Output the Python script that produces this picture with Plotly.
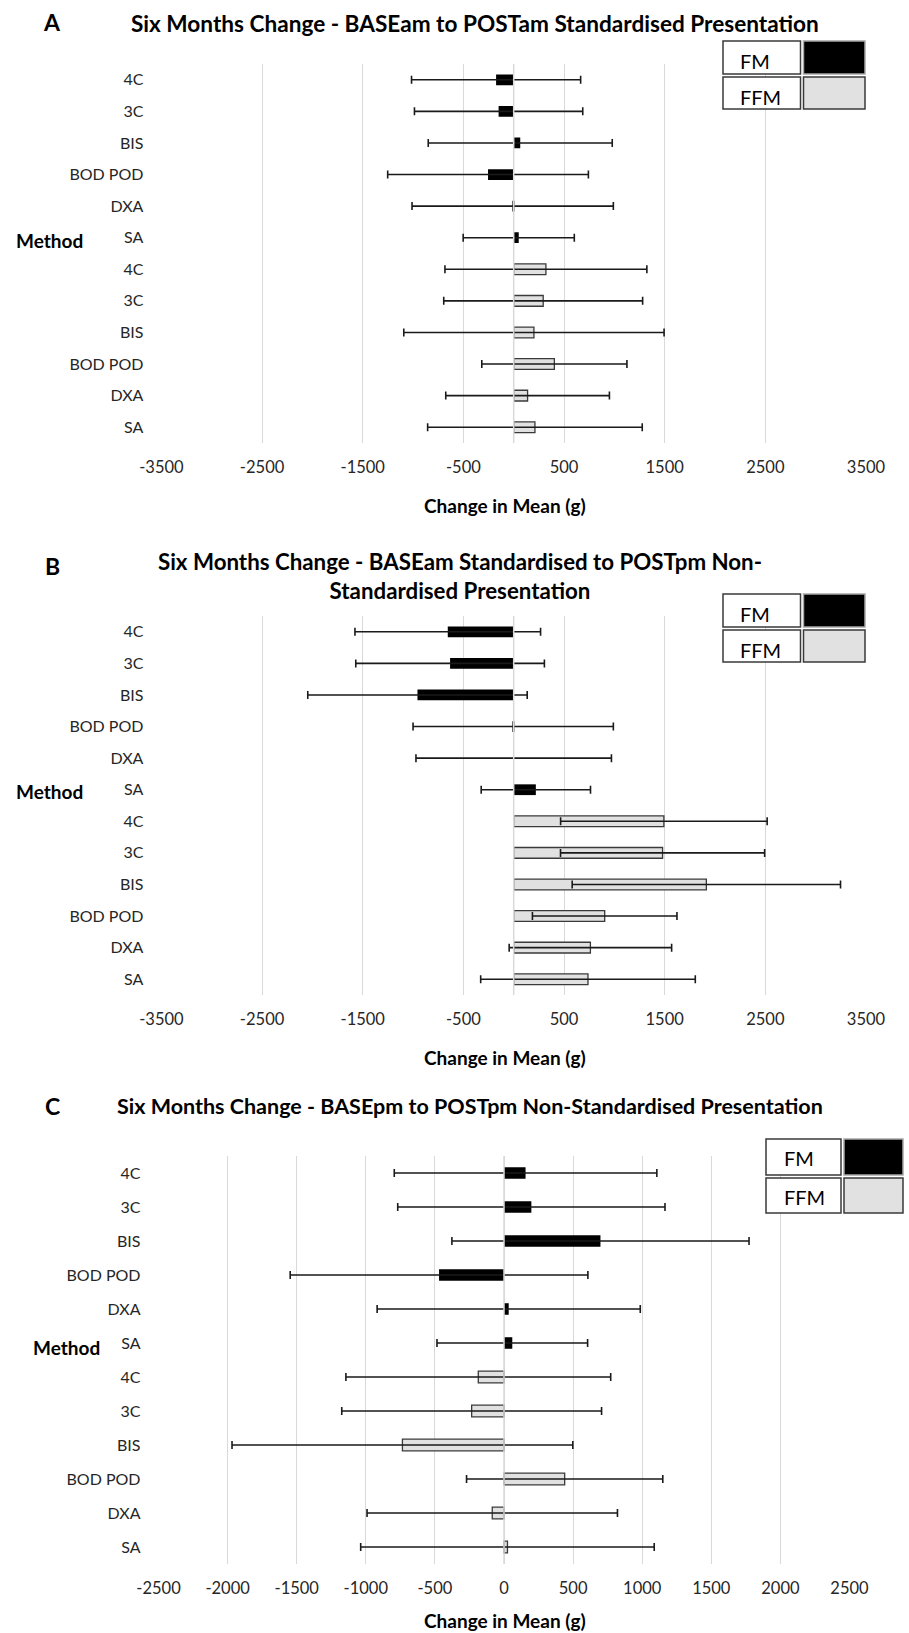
import plotly.graph_objects as go

# ---------------- data ----------------
methods = ["4C", "3C", "BIS", "BOD POD", "DXA", "SA"]
groups = ["FM", "FFM"]

# Panel A: BASEam to POSTam (standardised)
A_fm_mean = [-175, -150, 65, -255, -10, 50]
A_fm_err = [840, 836, 914, 997, 1000, 552]
A_ffm_mean = [320, 293, 201, 404, 138, 211]
A_ffm_err = [1003, 988, 1293, 721, 813, 1066]

# Panel B: BASEam standardised to POSTpm non-standardised
B_fm_mean = [-655, -632, -956, -5, 0, 220]
B_fm_err = [922, 937, 1090, 995, 971, 543]
B_ffm_mean = [1492, 1479, 1914, 904, 762, 738]
B_ffm_err = [1026, 1014, 1333, 718, 807, 1066]

# Panel C: BASEpm to POSTpm (non-standardised)
C_fm_mean = [156, 198, 698, -470, 34, 60]
C_fm_err = [950, 967, 1075, 1077, 952, 545]
C_ffm_mean = [-186, -234, -735, 439, -85, 25]
C_ffm_err = [958, 940, 1233, 710, 906, 1062]

titles = [
    "Six Months Change - BASEam to POSTam Standardised Presentation",
    "Six Months Change - BASEam Standardised to POSTpm Non-<br>Standardised Presentation",
    "Six Months Change - BASEpm to POSTpm Non-Standardised Presentation",
]
letters = ["A", "B", "C"]
x_ticks_AB = [-3500, -2500, -1500, -500, 500, 1500, 2500, 3500]
x_ticks_C = [-2500, -2000, -1500, -1000, -500, 0, 500, 1000, 1500, 2000, 2500]
x_title = "Change in Mean (g)"
y_title = "Method"

# ---------------- layout helpers ----------------
W, H = 909, 1633
FONT = "Lato, 'Open Sans', 'Liberation Sans', sans-serif"
TXT = "#262626"
FM_COLOR = "#000000"
FFM_COLOR = "#e1e1e1"
GRID = "#d9d9d9"


def px(x):
    return x / W


def py(y):
    return 1 - y / H


cat_ids = [f"{g}|{m}" for g in groups for m in methods]
cat_text = methods * 2

panels = [
    dict(fm=(A_fm_mean, A_fm_err), ffm=(A_ffm_mean, A_ffm_err), ticks=x_ticks_AB,
         xdom=(161.4, 866.0), ydom=(64.0, 443.0),
         title_y=24, title_x=475, letter_y=22, title_size=22.6,
         method=(49, 241), xtitle_y=505,
         leg=dict(x0=723, xm=802, x1=865, y0=41, ym=75.5, y1=109, tx=738, ty1=61, ty2=97)),
    dict(fm=(B_fm_mean, B_fm_err), ffm=(B_ffm_mean, B_ffm_err), ticks=x_ticks_AB,
         xdom=(161.4, 866.0), ydom=(616.0, 995.0),
         title_y=576, title_x=460, letter_y=566, title_size=22.3,
         method=(49, 792), xtitle_y=1057,
         leg=dict(x0=723, xm=802, x1=865, y0=594, ym=628.5, y1=662, tx=738, ty1=614, ty2=650)),
    dict(fm=(C_fm_mean, C_fm_err), ffm=(C_ffm_mean, C_ffm_err), ticks=x_ticks_C,
         xdom=(158.5, 849.5), ydom=(1156.0, 1564.0),
         title_y=1106, title_x=470, letter_y=1106, title_size=21.5,
         method=(66, 1347), xtitle_y=1620,
         leg=dict(x0=766, xm=842.5, x1=903, y0=1139, ym=1176.5, y1=1213, tx=782, ty1=1158, ty2=1197)),
]

fig = go.Figure()
shapes = []
annotations = []

for i, p in enumerate(panels):
    n = "" if i == 0 else str(i + 1)
    xa, ya = "x" + n, "y" + n
    fm_mean, fm_err = p["fm"]
    ffm_mean, ffm_err = p["ffm"]

    fig.add_trace(go.Bar(
        x=fm_mean, y=cat_ids[:6], orientation="h", xaxis=xa, yaxis=ya,
        marker=dict(color=FM_COLOR, line=dict(width=0)),
        error_x=dict(type="data", array=fm_err, visible=True, color="#1a1a1a", thickness=1.6, width=4),
        name="FM", showlegend=False, hoverinfo="x+y"))
    fig.add_trace(go.Bar(
        x=ffm_mean, y=cat_ids[6:], orientation="h", xaxis=xa, yaxis=ya,
        marker=dict(color=FFM_COLOR, line=dict(width=1.3, color="#3a3a3a")),
        error_x=dict(type="data", array=ffm_err, visible=True, color="#1a1a1a", thickness=1.6, width=4),
        name="FFM", showlegend=False, hoverinfo="x+y"))

    ticks = p["ticks"]
    fig.update_layout(**{
        "xaxis" + n: dict(
            domain=[px(p["xdom"][0]), px(p["xdom"][1])], anchor=ya,
            range=[ticks[0], ticks[-1]], tickmode="array", tickvals=ticks,
            ticktext=[str(t) for t in ticks],
            showgrid=True, gridcolor=GRID, gridwidth=1, zeroline=False, showline=False,
            ticks="", ticklabelstandoff=12, automargin=False,
            tickfont=dict(family=FONT, size=16.5, color=TXT), fixedrange=True),
        "yaxis" + n: dict(
            domain=[py(p["ydom"][1]), py(p["ydom"][0])], anchor=xa,
            type="category", categoryorder="array", categoryarray=cat_ids,
            autorange="reversed", tickmode="array", tickvals=cat_ids, ticktext=cat_text,
            showgrid=False, zeroline=False, showline=False, ticks="",
            ticklabelstandoff=17, automargin=False,
            tickfont=dict(family=FONT, size=16, color=TXT), fixedrange=True),
    })

    # zero (vertical axis) line drawn above the marks, like the original
    shapes.append(dict(type="line", xref=xa, yref=ya + " domain", x0=0, x1=0, y0=0, y1=1,
                       line=dict(color=GRID, width=1.5), layer="above"))

    # titles & labels
    annotations.append(dict(text=f"<b>{titles[i]}</b>", xref="paper", yref="paper",
                            x=px(p["title_x"]), y=py(p["title_y"]), xanchor="center", yanchor="middle",
                            showarrow=False, font=dict(family=FONT, size=p["title_size"], color="#000"),
                            align="center"))
    annotations.append(dict(text=f"<b>{letters[i]}</b>", xref="paper", yref="paper",
                            x=px(52), y=py(p["letter_y"]), xanchor="center", yanchor="middle",
                            showarrow=False, font=dict(family=FONT, size=23, color="#000")))
    annotations.append(dict(text=f"<b>{y_title}</b>", xref="paper", yref="paper",
                            x=px(p["method"][0]), y=py(p["method"][1]), xanchor="center", yanchor="middle",
                            showarrow=False, font=dict(family=FONT, size=19, color="#000")))
    annotations.append(dict(text=f"<b>{x_title}</b>", xref="paper", yref="paper",
                            x=px(505), y=py(p["xtitle_y"]), xanchor="center", yanchor="middle",
                            showarrow=False, font=dict(family=FONT, size=19, color="#000")))

    # legend drawn as a small table, as in the original
    L = p["leg"]
    gap = 1.5
    cells = [
        (L["x0"], L["xm"] - gap, L["y0"], L["ym"] - gap, "#ffffff", "#3a3a3a"),
        (L["xm"] + gap, L["x1"], L["y0"], L["ym"] - gap, FM_COLOR, "#a6a6a6"),
        (L["x0"], L["xm"] - gap, L["ym"] + gap, L["y1"], "#ffffff", "#3a3a3a"),
        (L["xm"] + gap, L["x1"], L["ym"] + gap, L["y1"], FFM_COLOR, "#3a3a3a"),
    ]
    for (a0, a1, b0, b1, fc, lc) in cells:
        shapes.append(dict(type="rect", xref="paper", yref="paper",
                           x0=px(a0), x1=px(a1), y0=py(b1), y1=py(b0),
                           fillcolor=fc, line=dict(color=lc, width=1.5), layer="above"))
    for lab, ty in ((groups[0], L["ty1"]), (groups[1], L["ty2"])):
        annotations.append(dict(text=lab, xref="paper", yref="paper", x=px(L["tx"]), y=py(ty),
                                xanchor="left", yanchor="middle", showarrow=False,
                                font=dict(family=FONT, size=20, color="#000")))

fig.update_layout(
    width=W, height=H, autosize=False,
    margin=dict(l=0, r=0, t=0, b=0, pad=0, autoexpand=False),
    paper_bgcolor="white", plot_bgcolor="white",
    barmode="overlay", bargap=0.66, showlegend=False,
    shapes=shapes, annotations=annotations,
    font=dict(family=FONT, color=TXT),
)

fig.write_html(
    "out.html",
    config={"responsive": False, "displayModeBar": False},
    post_script="document.body.style.margin='0px';document.body.style.overflow='hidden';",
)
